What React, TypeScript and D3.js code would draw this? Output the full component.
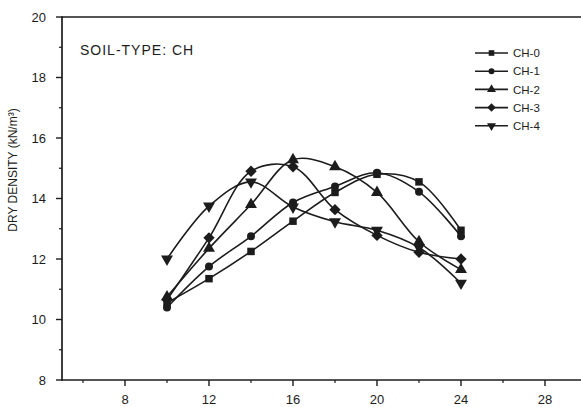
import React from "react";
import * as d3 from "d3";

const W = 581;
const H = 407;

const moisture = [10, 12, 14, 16, 18, 20, 22, 24];
const ch0 = [10.55, 11.35, 12.25, 13.25, 14.2, 14.8, 14.55, 12.95];
const ch1 = [10.4, 11.75, 12.75, 13.87, 14.4, 14.85, 14.22, 12.75];
const ch2 = [10.75, 12.35, 13.8, 15.28, 15.05, 14.2, 12.57, 11.65];
const ch3 = [10.65, 12.7, 14.9, 15.05, 13.63, 12.78, 12.22, 12.0];
const ch4 = [12.0, 13.75, 14.55, 13.72, 13.23, 12.95, 12.38, 11.2];

const seriesNames = ["CH-0", "CH-1", "CH-2", "CH-3", "CH-4"];
const seriesValues = [ch0, ch1, ch2, ch3, ch4];

const xTicks = [8, 12, 16, 20, 24, 28];
const xMinor = [6, 10, 14, 18, 22, 26, 30];
const yTicks = [8, 10, 12, 14, 16, 18, 20];
const yMinor = [9, 11, 13, 15, 17, 19];

const title = "SOIL-TYPE: CH";
const yLabel = "DRY DENSITY (kN/m³)";

const ink = "#1c1c1c";

const symbolSquareDiamond = {
  draw(ctx: any, size: number) {
    const r = Math.sqrt(size / 2);
    ctx.moveTo(0, -r);
    ctx.lineTo(r, 0);
    ctx.lineTo(0, r);
    ctx.lineTo(-r, 0);
    ctx.closePath();
  },
};

function markerPath(i: number): string {
  const types: any[] = [d3.symbolSquare, d3.symbolCircle, d3.symbolTriangle, symbolSquareDiamond, d3.symbolTriangle];
  const sizes = [56, 50, 62, 64, 62];
  return d3.symbol().type(types[i]).size(sizes[i])() || "";
}

export default function App() {
  const x = d3.scaleLinear().domain([5, 30]).range([62, 587]);
  const y = d3.scaleLinear().domain([8, 20]).range([380, 17]);
  const line = d3
    .line<number>()
    .x((_, i) => x(moisture[i]))
    .y((d) => y(d))
    .curve(d3.curveCatmullRom.alpha(0.5));

  const font = "'Liberation Sans', Arial, sans-serif";

  return (
    <svg
      width={W}
      height={H}
      style={{ position: "fixed", left: 0, top: 0, background: "#fff" }}
      fontFamily={font}
    >
      <rect x={0} y={0} width={W} height={H} fill="#fff" />
      {/* axes */}
      <line x1={x(5)} x2={W} y1={y(8)} y2={y(8)} stroke={ink} strokeWidth={1.7} />
      <line x1={x(5)} x2={W} y1={y(20)} y2={y(20)} stroke={ink} strokeWidth={1.7} />
      <line x1={x(5)} x2={x(5)} y1={y(8) + 0.8} y2={y(20) - 0.8} stroke={ink} strokeWidth={1.7} />
      {/* y ticks */}
      {yTicks.map((t) => (
        <g key={"yt" + t}>
          <line x1={x(5) - 6} x2={x(5)} y1={y(t)} y2={y(t)} stroke={ink} strokeWidth={1.4} />
          <text x={x(5) - 16} y={y(t) + 4.6} textAnchor="end" fontSize={13} fill={ink}>
            {t}
          </text>
        </g>
      ))}
      {yMinor.map((t) => (
        <line key={"ym" + t} x1={x(5) - 3} x2={x(5)} y1={y(t)} y2={y(t)} stroke={ink} strokeWidth={1.2} />
      ))}
      {/* x ticks */}
      {xTicks.map((t) => (
        <g key={"xt" + t}>
          <line x1={x(t)} x2={x(t)} y1={y(8)} y2={y(8) + 6} stroke={ink} strokeWidth={1.4} />
          <text x={x(t)} y={y(8) + 24} textAnchor="middle" fontSize={13} fill={ink}>
            {t}
          </text>
        </g>
      ))}
      {xMinor.map((t) => (
        <line key={"xm" + t} x1={x(t)} x2={x(t)} y1={y(8)} y2={y(8) + 3} stroke={ink} strokeWidth={1.2} />
      ))}
      {/* y label */}
      <text
        transform={`translate(17,170) rotate(-90)`}
        textAnchor="middle"
        fontSize={12}
        fill={ink}
      >
        {yLabel}
      </text>
      {/* title */}
      <text x={80} y={55} fontSize={14} letterSpacing={1} fill={ink}>
        {title}
      </text>
      {/* series */}
      {seriesValues.map((vals, si) => (
        <g key={"s" + si}>
          <path d={line(vals) || ""} fill="none" stroke={ink} strokeWidth={1.6} />
          {vals.map((v, i) => (
            <path
              key={i}
              d={markerPath(si)}
              transform={`translate(${x(moisture[i])},${y(v)})${si === 4 ? " rotate(180)" : ""}`}
              fill={ink}
            />
          ))}
        </g>
      ))}
      {/* legend */}
      {seriesNames.map((name, si) => {
        const ly = 53 + si * 18.2;
        return (
          <g key={"l" + si}>
            <line x1={475} x2={508} y1={ly} y2={ly} stroke={ink} strokeWidth={1.6} />
            <path
              d={markerPath(si)}
              transform={`translate(491.5,${ly})${si === 4 ? " rotate(180)" : ""} scale(0.75)`}
              fill={ink}
            />
            <text x={513} y={ly + 4.2} fontSize={11.5} fill={ink}>
              {name}
            </text>
          </g>
        );
      })}
    </svg>
  );
}
